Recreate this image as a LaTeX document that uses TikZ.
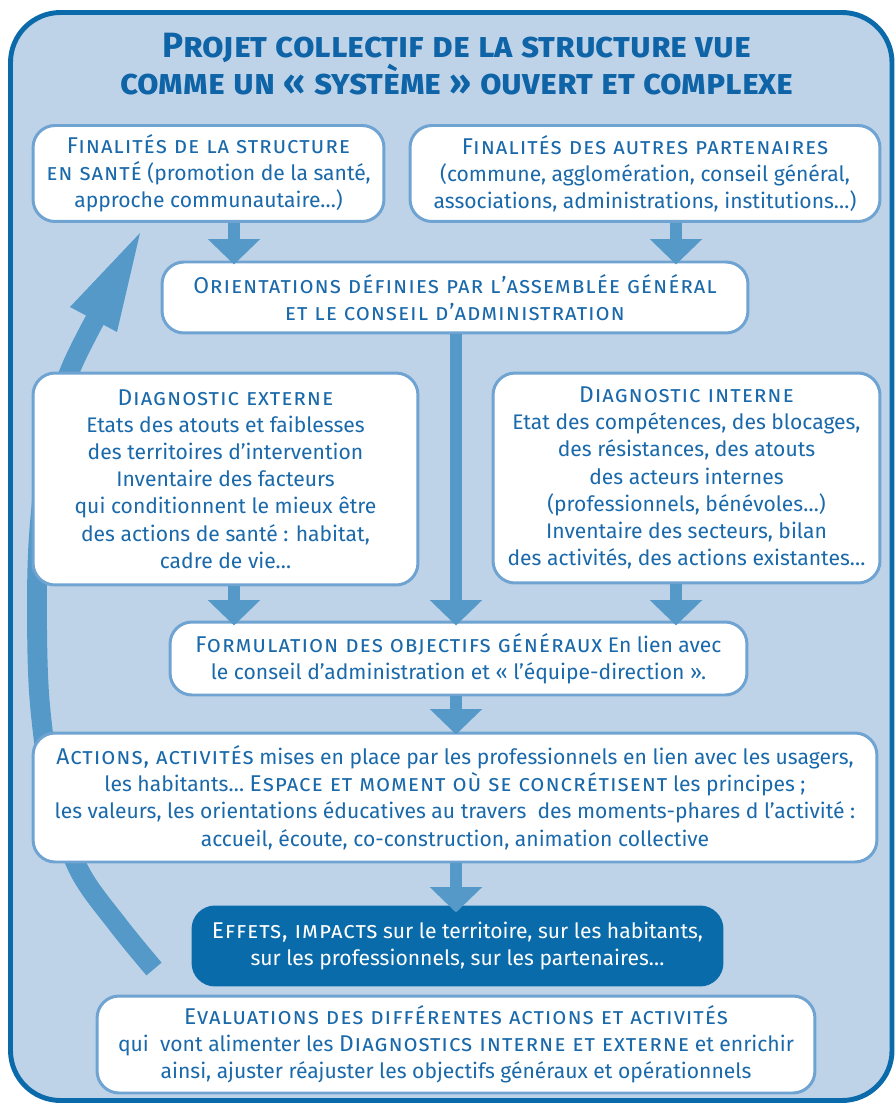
\documentclass[tikz,border=0pt]{standalone}
\usepackage{fontspec}
\setmainfont{Fira Sans}
\usetikzlibrary{arrows.meta,calc}
\definecolor{bgblue}{HTML}{BED3E8}
\definecolor{frameblue}{HTML}{0A6AAA}
\definecolor{boxline}{HTML}{6FA3D2}
\definecolor{arrowblue}{HTML}{5599C9}
\definecolor{txtblue}{HTML}{1A69AA}
\definecolor{titleblue}{HTML}{0E64A6}
\definecolor{effetsblue}{HTML}{0A6BAB}
\newcommand\SC[1]{{\fontsize{13}{15.5}\selectfont\scshape\addfontfeatures{LetterSpace=4}#1}}
\begin{document}
\begin{tikzpicture}[x=0.02cm,y=-0.02cm,
  box/.style={draw=boxline, line width=1.7pt, fill=white, rounded corners=0.44cm,
    align=center, text=txtblue, font=\fontsize{12}{15.5}\selectfont, inner sep=0pt},
  darkbox/.style={box, draw=effetsblue, fill=effetsblue, text=white},
  flow/.style={arrowblue, line width=6.8pt, -{Triangle[width=29pt,length=14.5pt]}},
  curvearrow/.style={arrowblue, line width=11.3pt},
  titletext/.style={align=center, text=titleblue, font=\fontsize{20}{19.8}\selectfont\bfseries\scshape},
]
\useasboundingbox (0,0) rectangle (895,1104);
\draw[frameblue, line width=2.8pt, fill=bgblue, rounded corners=1cm] (10.5,12.5) rectangle (892,1100.5);

\node[titletext] (title) at (457,64) {Projet collectif de la structure vue\\comme un « système » ouvert et complexe};

% feedback curve (behind boxes)
\coordinate (fbtip) at (140,233);
\coordinate (fbl) at (70,307);
\coordinate (fbr) at (117,332);
\draw[curvearrow] plot[smooth, tension=0.55] coordinates
  {(154,969) (118,925) (79,870) (53,795) (40,705) (37,620) (39,535) (50,440) (69,373) (96,318)};
\fill[arrowblue] (fbl) -- (fbtip) -- (fbr) -- cycle;

\node[box, minimum width=7.02cm, minimum height=1.92cm] (b1) at (208.5,173.5)
 {\SC{Finalités de la structure}\\\SC{en santé} (promotion de la santé,\\approche communautaire…)};
\node[box, minimum width=9.4cm, minimum height=1.92cm] (b2) at (645,173.5)
 {\SC{Finalités des autres partenaires}\\(commune, agglomération, conseil général,\\associations, administrations, institutions…)};
\node[box, minimum width=11.72cm, minimum height=1.42cm] (b3) at (455,297.5)
 {\SC{Orientations définies par l’assemblée général}\\\SC{et le conseil d’administration}};
\node[box, minimum width=7.7cm, minimum height=4.24cm] (b4) at (225.5,479)
 {\SC{Diagnostic externe}\\Etats des atouts et faiblesses\\des territoires d’intervention\\Inventaire des facteurs\\qui conditionnent le mieux être\\des actions de santé : habitat,\\cadre de vie…};
\node[box, minimum width=7.74cm, minimum height=4.2cm] (b5) at (686.5,478)
 {\SC{Diagnostic interne}\\Etat des compétences, des blocages,\\des résistances, des atouts\\des acteurs internes\\(professionnels, bénévoles…)\\Inventaire des secteurs, bilan\\des activités, des actions existantes…};
\node[box, minimum width=11.54cm, minimum height=1.46cm] (b6) at (458.5,658.5)
 {\SC{Formulation des objectifs généraux} En lien avec\\le conseil d’administration et « l’équipe-direction ».};
\node[box, minimum width=16.88cm, minimum height=2.58cm] (b7) at (455,797.5)
 {\SC{Actions, activités} mises en place par les professionnels en lien avec les usagers,\\les habitants… \SC{Espace et moment où se concrétisent} les principes ;\\les valeurs, les orientations éducatives au travers~ des moments-phares d l’activité :\\accueil, écoute, co-construction, animation collective};
\node[darkbox, minimum width=10.58cm, minimum height=1.56cm] (b8) at (457.5,946)
 {\SC{Effets, impacts} sur le territoire, sur les habitants,\\sur les professionnels, sur les partenaires…};
\node[box, minimum width=14.36cm, minimum height=1.94cm] (b9) at (456,1044.5)
 {\SC{Evaluations des différentes actions et activités}\\qui~ vont alimenter les \SC{Diagnostics interne et externe} et enrichir\\ainsi, ajuster réajuster les objectifs généraux et opérationnels};

% arrow columns
\coordinate (colL) at (234,0);
\coordinate (colM) at (456,0);
\coordinate (colR) at (676,0);

\draw[flow] (b1.south -| colL) -- ($(b3.north -| colL)+(0,4)$);
\draw[flow] (b2.south -| colR) -- ($(b3.north -| colR)+(0,4)$);
\draw[flow] (b3.south -| colM) -- ($(b6.north -| colM)+(0,5)$);
\draw[flow] (b4.south -| colL) -- ($(b6.north -| colL)+(0,5)$);
\draw[flow] (b5.south -| colR) -- ($(b6.north -| colR)+(0,5)$);
\draw[flow] (b6.south -| colM) -- ($(b7.north -| colM)+(0,3)$);
\draw[flow] (b7.south -| colM) -- ($(b8.north -| colM)+(0,7)$);
\end{tikzpicture}
\end{document}
